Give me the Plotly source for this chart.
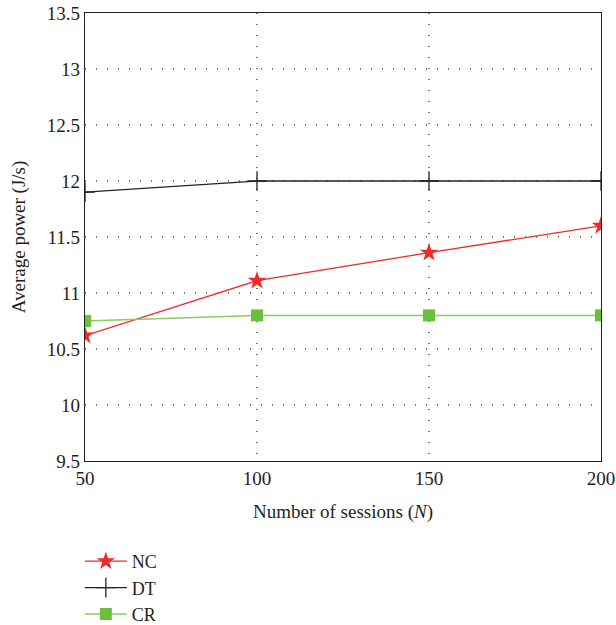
import plotly.graph_objects as go

sessions = [50, 100, 150, 200]
nc_power = [10.62, 11.11, 11.36, 11.60]
dt_power = [11.90, 12.00, 12.00, 12.00]
cr_power = [10.75, 10.80, 10.80, 10.80]
y_ticks = [9.5, 10, 10.5, 11, 11.5, 12, 12.5, 13, 13.5]
y_tick_labels = ["9.5", "10", "10.5", "11", "11.5", "12", "12.5", "13", "13.5"]

FONT = "Liberation Serif, Times New Roman, serif"
FS = 19

fig = go.Figure()
fig.add_trace(go.Scatter(
    x=sessions, y=nc_power, name="NC", mode="lines+markers",
    line=dict(color="#ee2b2b", width=1.3),
    marker=dict(symbol="star", size=14, color="#ee2b2b", line=dict(width=0)),
))
fig.add_trace(go.Scatter(
    x=sessions, y=dt_power, name="DT", mode="lines+markers",
    line=dict(color="#222222", width=1.3),
    marker=dict(symbol="cross-thin", size=14, color="#222222", line=dict(width=1.3, color="#222222")),
))
fig.add_trace(go.Scatter(
    x=sessions, y=cr_power, name="CR", mode="lines+markers",
    line=dict(color="#8ccc5e", width=1.5),
    marker=dict(symbol="square", size=12, color="#6cbf3d", line=dict(width=0)),
))

fig.update_layout(
    width=616, height=625,
    margin=dict(l=85, r=15, t=13, b=164, autoexpand=False),
    paper_bgcolor="white", plot_bgcolor="white",
    font=dict(family=FONT, size=FS, color="#231f20"),
    showlegend=True,
    legend=dict(
        x=-0.01, y=-0.183, xanchor="left", yanchor="top",
        bgcolor="rgba(0,0,0,0)", font=dict(size=18, family=FONT),
        itemwidth=42, tracegroupgap=0,
    ),
    xaxis=dict(
        range=[50, 200], tickvals=sessions, ticktext=[str(s) for s in sessions],
        showline=True, linecolor="#231f20", linewidth=1.2, mirror=True,
        showgrid=True, gridcolor="#777777", griddash="1px,10px", gridwidth=1.5,
        ticks="", automargin=False,
        zeroline=False,
        title=dict(text="Number of sessions (<i>N</i>)", standoff=16, font=dict(size=FS)),
        tickfont=dict(size=FS),
    ),
    yaxis=dict(
        range=[9.5, 13.5], tickvals=y_ticks, ticktext=y_tick_labels,
        showline=True, linecolor="#231f20", linewidth=1.2, mirror=True,
        showgrid=True, gridcolor="#777777", griddash="1px,10px", gridwidth=1.5,
        ticks="", automargin=False,
        zeroline=False,
        title=dict(text="Average power (J/s)", standoff=16, font=dict(size=FS)),
        tickfont=dict(size=FS),
    ),
)

fig.write_html("out.html", config={"displayModeBar": False},
               post_script="document.body.style.margin='0';")
